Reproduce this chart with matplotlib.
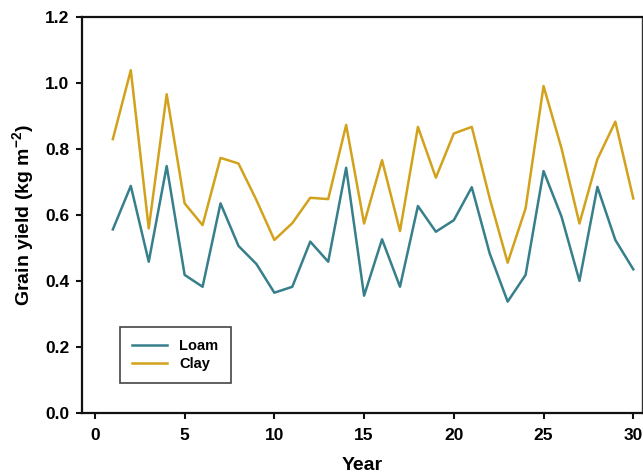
import numpy as np
import matplotlib
matplotlib.use("Agg")
import matplotlib.pyplot as plt

plt.rcParams['font.family'] = ['Liberation Sans', 'DejaVu Sans']
plt.rcParams['mathtext.fontset'] = 'custom'
plt.rcParams['mathtext.bf'] = 'Liberation Sans:bold'
plt.rcParams['axes.unicode_minus'] = False

years = np.arange(1, 31)
loam = [0.556, 0.688, 0.458, 0.748, 0.418, 0.382, 0.635, 0.506, 0.451, 0.364,
        0.382, 0.519, 0.458, 0.743, 0.355, 0.526, 0.382, 0.627, 0.549, 0.584,
        0.684, 0.483, 0.337, 0.418, 0.733, 0.595, 0.400, 0.685, 0.524, 0.435]
clay = [0.830, 1.039, 0.559, 0.966, 0.635, 0.569, 0.773, 0.756, 0.645, 0.524,
        0.575, 0.652, 0.648, 0.873, 0.574, 0.766, 0.551, 0.867, 0.713, 0.847,
        0.867, 0.650, 0.455, 0.620, 0.991, 0.802, 0.574, 0.769, 0.883, 0.650]

loam_col = '#367f8b'
clay_col = '#d2a21c'

fig = plt.figure(figsize=(6.43, 4.76), dpi=100)
ax = fig.add_axes([0.1275, 0.133, 0.8705, 0.831])

ax.plot(years, loam, color=loam_col, lw=1.8, label='Loam')
ax.plot(years, clay, color=clay_col, lw=1.8, label='Clay')

ax.set_xlim(-0.72, 30.47)
ax.set_ylim(0, 1.2)
ax.set_xticks([0, 5, 10, 15, 20, 25, 30])
ax.set_yticks([0.0, 0.2, 0.4, 0.6, 0.8, 1.0, 1.2])
ax.yaxis.set_major_formatter(matplotlib.ticker.FormatStrFormatter('%.1f'))

for s in ['left', 'bottom', 'top']:
    ax.spines[s].set_linewidth(1.6)
    ax.spines[s].set_color('#111111')
ax.spines['right'].set_linewidth(1.0)
ax.spines['right'].set_color('#333333')

ax.tick_params(direction='out', length=4, width=1.5, labelsize=12.5, color='#111111')
ax.tick_params(axis='x', pad=7)
ax.tick_params(axis='y', pad=5)
for lab in ax.get_xticklabels() + ax.get_yticklabels():
    lab.set_fontweight('bold')

ax.set_xlabel('Year', fontsize=14, fontweight='bold', labelpad=10)
ax.set_ylabel('Grain yield (kg m$^{\\mathbf{-2}}$)', fontsize=14, fontweight='bold', labelpad=6)

leg = ax.legend(loc='lower left', bbox_to_anchor=(0.068, 0.075), borderaxespad=0,
                fancybox=False, framealpha=1, edgecolor='#444444', handlelength=2.4,
                prop={'weight': 'bold', 'size': 10.5}, borderpad=0.85, labelspacing=0.25)
leg.get_frame().set_linewidth(1.2)

fig.savefig('out.png', dpi=100)
